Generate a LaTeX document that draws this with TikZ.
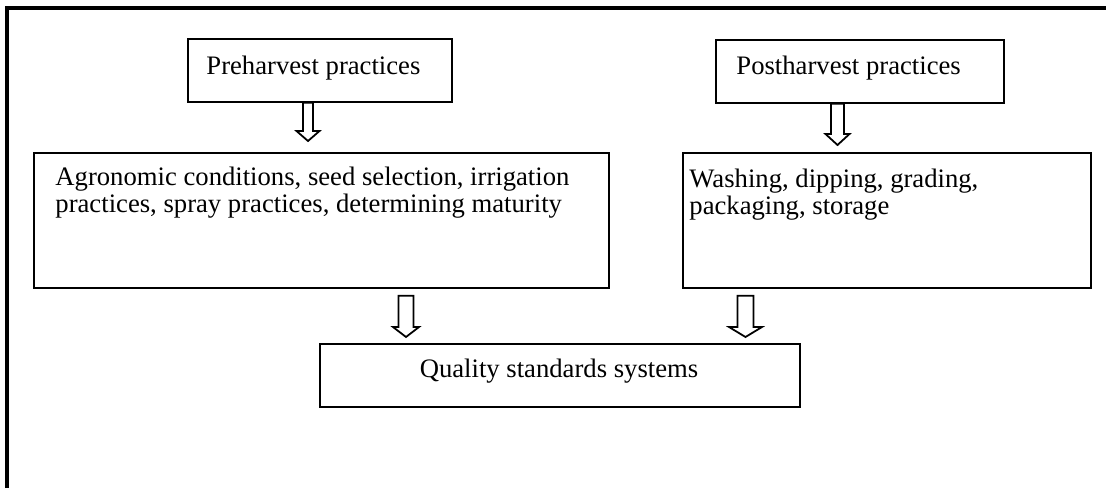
\documentclass[tikz,border=0pt]{standalone}
\usepackage{fontspec}
\setmainfont{Liberation Serif}
\usepackage{tikz}
\usetikzlibrary{calc}
\newcommand{\pxu}{0.45pt}
\tikzstyle{box} = [draw, line width=0.8pt, inner sep=0pt, anchor=north west]
\tikzstyle{boxtext} = [inner sep=0pt, align=left,
    font=\fontsize{12pt}{12pt}\selectfont]
\tikzset{arrowline/.style={draw, line width=0.8pt, line join=miter, fill=white}}
\tikzset{frameline/.style={line width=1.4pt}}
% hollow down arrow: start, tip, half shaft, half head, head length (px)
\newcommand{\hollowarrow}[5]{%
  \draw[arrowline] let \p1=#1, \p2=#2 in
    (\x1-#3*\pxu,\y1) -- (\x1+#3*\pxu,\y1) -- (\x1+#3*\pxu,\y2+#5*\pxu)
    -- (\x1+#4*\pxu,\y2+#5*\pxu) -- (\x1,\y2) -- (\x1-#4*\pxu,\y2+#5*\pxu)
    -- (\x1-#3*\pxu,\y2+#5*\pxu) -- cycle;}

\begin{document}
\begin{tikzpicture}[x=\pxu, y=-\pxu]
\useasboundingbox (0,0) rectangle (1106,488);
    %frame
    \draw[frameline] (7,488) -- (7,8) -- (1106,8);
    %boxes
    \node[box, minimum width=264*\pxu, minimum height=63*\pxu] (pre) at (187,38) {};
    \node[box, minimum width=288*\pxu, minimum height=63*\pxu] (post) at (715,39) {};
    \node[box, minimum width=575*\pxu, minimum height=135*\pxu] (agro) at (33,152) {};
    \node[box, minimum width=408*\pxu, minimum height=135*\pxu] (wash) at (682,152) {};
    \node[box, minimum width=480*\pxu, minimum height=63*\pxu] (qual) at (319,343) {};
    %labels
    \node[boxtext, anchor=base west] (pretxt) at (206,74) {Preharvest practices};
    \node[boxtext, anchor=base west] (posttxt) at (736,74) {Postharvest practices};
    \node[boxtext, anchor=base west] (agrotxt) at (55,212)
        {Agronomic conditions, seed selection, irrigation\\
         practices, spray practices, determining maturity};
    \node[boxtext, anchor=base west] (washtxt) at (689,214)
        {Washing, dipping, grading,\\ packaging, storage};
    \node[boxtext, anchor=base] (qualtxt) at (559,377) {Quality standards systems};
    %arrows
    \coordinate (a1) at (308,0);
    \coordinate (a2) at (837.5,0);
    \coordinate (a3) at (406,0);
    \coordinate (a4) at (745.5,0);
    \hollowarrow{(pre.south -| a1)}{($(agro.north -| a1)+(0,-11)$)}{5}{11.5}{10}
    \hollowarrow{(post.south -| a2)}{($(wash.north -| a2)+(0,-7)$)}{6.5}{12}{11}
    \hollowarrow{($(agro.south -| a3)+(0,7)$)}{($(qual.north -| a3)+(0,-6)$)}{7.5}{13}{10}
    \hollowarrow{($(wash.south -| a4)+(0,7)$)}{($(qual.north -| a4)+(0,-6)$)}{8}{16.5}{10}
\end{tikzpicture}
\end{document}
